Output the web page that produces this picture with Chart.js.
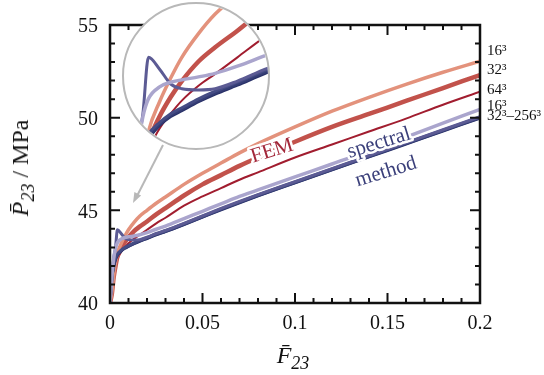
<!DOCTYPE html>
<html>
<head>
<meta charset="utf-8">
<script src="https://cdn.jsdelivr.net/npm/chart.js"></script>
<style>
  html, body { margin: 0; padding: 0; background: #fff; }
  #wrap { position: relative; width: 544px; height: 375px; font-family: 'Liberation Serif', 'DejaVu Serif', serif; color: #111; }
  #main { position: absolute; left: 0; top: 0; }
  #lens { position: absolute; left: 122px; top: 2px; width: 144px; height: 144px; border-radius: 50%;
          overflow: hidden; border: 2px solid #b8b8b8; background: #fff; }
  #lens canvas { display: block; }
  .title { position: absolute; font-size: 24px; white-space: nowrap; }
  .title sub { font-size: 18px; font-style: italic; vertical-align: -6px; }
  #ytitle { left: 23px; top: 168px; transform: translate(-50%, -50%) rotate(-90deg); }
  #xtitle { left: 293px; top: 358px; transform: translate(-50%, -50%); }
</style>
</head>
<body>
<div id="wrap">
  <canvas id="main" width="544" height="375"></canvas>
  <div id="lens"><canvas id="zoom" width="144" height="144"></canvas></div>
  <div class="title" id="ytitle"><i>P̄</i><sub>23</sub> / MPa</div>
  <div class="title" id="xtitle"><i>F̄</i><sub>23</sub></div>
</div>
<script>
// shear strain F23 samples (denser near the origin where the curves turn)
const strain = [0, 0.001, 0.002, 0.003, 0.004, 0.006, 0.008, 0.01, 0.013, 0.016, 0.02, 0.025,
                0.03, 0.04, 0.05, 0.06, 0.07, 0.08, 0.1, 0.12, 0.14, 0.16, 0.18, 0.2];

// FEM, by grid resolution
const fem16 = [40, 40.6, 41.5, 42.2, 42.7, 43.2, 43.6, 43.95, 44.35, 44.68, 45.0, 45.38,
               45.72, 46.4, 47.0, 47.55, 48.1, 48.6, 49.5, 50.35, 51.1, 51.8, 52.45, 53.05];
const fem32 = [40, 40.5, 41.4, 42.0, 42.5, 42.95, 43.28, 43.55, 43.88, 44.12, 44.4, 44.78,
               45.12, 45.8, 46.4, 46.9, 47.4, 47.85, 48.7, 49.5, 50.2, 50.9, 51.6, 52.3];
const fem64 = [40, 40.4, 41.3, 41.9, 42.35, 42.75, 43.0, 43.22, 43.47, 43.67, 43.95, 44.3,
               44.6, 45.25, 45.75, 46.2, 46.65, 47.05, 47.85, 48.55, 49.25, 49.95, 50.7, 51.4];

// spectral method, by grid resolution
const spec16 = [40, 41.4, 42.4, 42.95, 43.25, 43.45, 43.53, 43.57, 43.62, 43.68, 43.8, 43.98,
                44.15, 44.55, 44.95, 45.35, 45.75, 46.1, 46.8, 47.5, 48.2, 48.95, 49.7, 50.45];
const spec32 = [40, 41.2, 42.4, 43.0, 43.95, 43.75, 43.5, 43.42, 43.4, 43.42, 43.55, 43.75,
                43.92, 44.3, 44.7, 45.1, 45.48, 45.85, 46.55, 47.25, 47.95, 48.65, 49.35, 50.05];
const spec64 = [40, 41.5, 42.1, 42.45, 42.65, 42.85, 43.0, 43.1, 43.25, 43.38, 43.53, 43.73,
                43.9, 44.28, 44.68, 45.08, 45.46, 45.83, 46.53, 47.23, 47.93, 48.63, 49.33, 50.03];
const spec128 = [40, 41.4, 42.0, 42.4, 42.6, 42.82, 42.97, 43.07, 43.22, 43.35, 43.5, 43.7,
                 43.87, 44.25, 44.65, 45.05, 45.43, 45.8, 46.5, 47.2, 47.9, 48.6, 49.3, 50.0];
const spec256 = [40, 41.3, 41.95, 42.35, 42.57, 42.8, 42.95, 43.05, 43.2, 43.33, 43.48, 43.68,
                 43.85, 44.23, 44.63, 45.03, 45.41, 45.78, 46.48, 47.18, 47.88, 48.58, 49.28, 49.98];

const xTicks = [0, 0.05, 0.1, 0.15, 0.2];
const xTickLabels = ['0', '0.05', '0.1', '0.15', '0.2'];
const yTicks = [40, 45, 50, 55];
const yTickLabels = ['40', '45', '50', '55'];
const endLabels = ['16³', '32³', '64³', '16³', '32³–256³'];

const series = [
  { values: spec16,  color: '#aaa5cd', width: 3.5 },
  { values: spec32,  color: '#5c5b94', width: 3 },
  { values: spec64,  color: '#454c84', width: 3 },
  { values: spec128, color: '#353d75', width: 3 },
  { values: spec256, color: '#293168', width: 3 },
  { values: fem16,   color: '#e3927c', width: 3.5 },
  { values: fem32,   color: '#c2524b', width: 4.5 },
  { values: fem64,   color: '#a11d2f', width: 2 }
];

function makeDatasets() {
  return series.map(s => ({
    data: strain.map((x, i) => ({ x: x, y: s.values[i] })),
    borderColor: s.color,
    borderWidth: s.width,
    pointRadius: 0,
    cubicInterpolationMode: 'monotone',
    fill: false
  }));
}

// box, inward ticks, tick labels and annotations
const framePlugin = {
  id: 'frame',
  afterDraw(chart) {
    const { ctx, chartArea: a, scales: { x, y } } = chart;
    ctx.save();
    ctx.strokeStyle = '#111';
    ctx.lineWidth = 2;
    for (let i = 0; i <= 20; i++) {
      const px = x.getPixelForValue(i / 100);
      const len = i % 5 === 0 ? 10 : 5;
      ctx.beginPath();
      ctx.moveTo(px, a.bottom); ctx.lineTo(px, a.bottom - len);
      ctx.moveTo(px, a.top); ctx.lineTo(px, a.top + len);
      ctx.stroke();
    }
    for (let v = 40; v <= 55; v++) {
      const py = y.getPixelForValue(v);
      const len = v % 5 === 0 ? 10 : 5;
      ctx.beginPath();
      ctx.moveTo(a.left, py); ctx.lineTo(a.left + len, py);
      ctx.moveTo(a.right, py); ctx.lineTo(a.right - len, py);
      ctx.stroke();
    }
    ctx.lineWidth = 2.5;
    ctx.strokeRect(a.left, a.top, a.right - a.left, a.bottom - a.top);

    ctx.fillStyle = '#111';
    ctx.font = '20px "Liberation Serif"';
    ctx.textAlign = 'center';
    ctx.textBaseline = 'top';
    xTicks.forEach((v, i) => ctx.fillText(xTickLabels[i], x.getPixelForValue(v), a.bottom + 11));
    ctx.textAlign = 'right';
    ctx.textBaseline = 'middle';
    yTicks.forEach((v, i) => ctx.fillText(yTickLabels[i], a.left - 12, y.getPixelForValue(v) + 2));

    // resolution labels at the right end
    ctx.font = '15px "Liberation Serif"';
    ctx.textAlign = 'left';
    const labelY = [51, 70, 90, 106, 116];
    endLabels.forEach((t, i) => ctx.fillText(t, a.right + 7, labelY[i]));

    // method names along the curves
    const tag = (text, vx, vy, color) => {
      ctx.save();
      ctx.translate(x.getPixelForValue(vx), y.getPixelForValue(vy));
      ctx.rotate(-0.3);
      ctx.font = '21px "Liberation Serif"';
      ctx.textAlign = 'center';
      ctx.textBaseline = 'middle';
      ctx.lineJoin = 'round';
      ctx.strokeStyle = '#fff';
      ctx.lineWidth = 5;
      ctx.strokeText(text, 0, 0);
      ctx.fillStyle = color;
      ctx.fillText(text, 0, 0);
      ctx.restore();
    };
    tag('FEM', 0.0876, 48.2, '#a3283a');
    tag('spectral', 0.1454, 48.63, '#3a3f7a');
    tag('method', 0.1492, 47.07, '#3a3f7a');

    // pointer from the magnifier to the origin region
    ctx.strokeStyle = '#b8b8b8';
    ctx.fillStyle = '#b8b8b8';
    ctx.lineWidth = 2;
    ctx.beginPath();
    ctx.moveTo(163, 145); ctx.lineTo(137, 196);
    ctx.stroke();
    const ang = Math.atan2(203 - 145, 133 - 163);
    ctx.beginPath();
    ctx.moveTo(133, 203);
    ctx.lineTo(133 - 11 * Math.cos(ang - 0.35), 203 - 11 * Math.sin(ang - 0.35));
    ctx.lineTo(133 - 11 * Math.cos(ang + 0.35), 203 - 11 * Math.sin(ang + 0.35));
    ctx.closePath();
    ctx.fill();
    ctx.restore();
  }
};

const baseOptions = {
  responsive: false,
  animation: false,
  devicePixelRatio: 1,
  plugins: { legend: { display: false }, tooltip: { enabled: false } }
};

new Chart(document.getElementById('main'), {
  type: 'line',
  data: { datasets: makeDatasets() },
  options: Object.assign({}, baseOptions, {
    layout: { padding: { left: 110, right: 64, top: 25, bottom: 72 } },
    scales: {
      x: { type: 'linear', min: 0, max: 0.2, display: false },
      y: { type: 'linear', min: 40, max: 55, display: false }
    }
  }),
  plugins: [framePlugin]
});

// magnified view near the origin
new Chart(document.getElementById('zoom'), {
  type: 'line',
  data: { datasets: makeDatasets() },
  options: Object.assign({}, baseOptions, {
    layout: { padding: 0 },
    scales: {
      x: { type: 'linear', min: -0.0004, max: 0.0255, display: false },
      y: { type: 'linear', min: 42.42, max: 44.85, display: false }
    }
  })
});
</script>
</body>
</html>
